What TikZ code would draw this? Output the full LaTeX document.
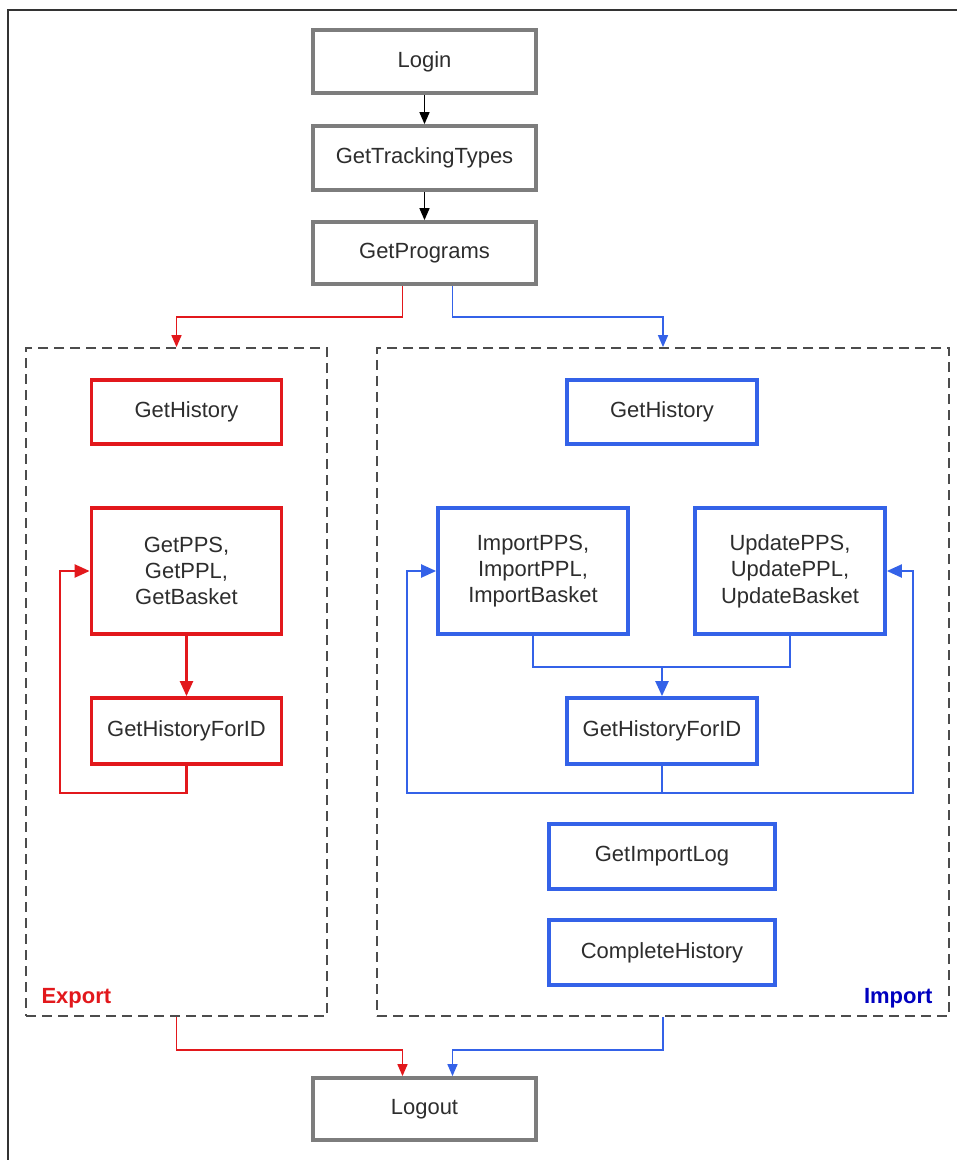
\documentclass[tikz,border=0pt]{standalone}
\usepackage{fontspec}
\setmainfont{Liberation Sans}
\usetikzlibrary{arrows.meta}

\definecolor{boxgray}{RGB}{125,125,125}
\definecolor{expred}{RGB}{226,24,28}
\definecolor{impblue}{RGB}{52,98,232}
\definecolor{txtgray}{RGB}{45,45,45}

\tikzset{
  box/.style={draw, line width=0.75mm, align=center, text=txtgray,
    font=\fontsize{12.5}{15}\selectfont, minimum width=3.8cm, minimum height=1.28cm},
  graybox/.style={box, draw=boxgray, minimum width=4.46cm},
  redbox/.style={box, draw=expred},
  bluebox/.style={box, draw=impblue},
  group/.style={draw=black!70, dash pattern=on 2mm off 1.2mm, line width=0.35mm},
  link/.style={line width=0.3mm, -{Triangle[length=2.4mm, width=2mm]}},
  inlink/.style={line width=0.45mm, -{Triangle[length=3mm, width=2.6mm]}}
}

\begin{document}
\begin{tikzpicture}[thick]
    \useasboundingbox (0,0) rectangle (19.14,-23.2);
    \draw[line width=0.5mm, black!80] (0.16,-23.2) -- (0.16,-0.2) -- (19.14,-0.2);

    \node[graybox, minimum height=1.26cm] at (8.49,-1.23) (login) {Login};
    \node[graybox] at (8.49,-3.16) (types) {GetTrackingTypes};
    \node[graybox, minimum height=1.24cm] at (8.49,-5.06) (programs) {GetPrograms};

    \node[group, minimum width=6.02cm, minimum height=13.36cm] at (3.53,-13.64) (export) {};
    \node[group, minimum width=11.44cm, minimum height=13.36cm] at (13.26,-13.64) (import) {};
    \node[anchor=west, text=expred, font=\fontsize{12.5}{15}\selectfont\bfseries] at (0.7,-19.96) (exportlabel) {Export};
    \node[anchor=east, text=blue!75!black, font=\fontsize{12.5}{15}\selectfont\bfseries] at (18.78,-19.96) (importlabel) {Import};

% export side
    \node[redbox] at (3.73,-8.24) (rhist) {GetHistory};
    \node[redbox, minimum height=2.52cm] at (3.73,-11.42) (rget) {GetPPS,\\GetPPL,\\GetBasket};
    \node[redbox, minimum height=1.32cm] at (3.73,-14.62) (rforid) {GetHistoryForID};

% import side
    \node[bluebox] at (13.24,-8.24) (bhist) {GetHistory};
    \node[bluebox, minimum height=2.52cm] at (10.66,-11.42) (bimp) {ImportPPS,\\ImportPPL,\\ImportBasket};
    \node[bluebox, minimum height=2.52cm] at (15.8,-11.42) (bupd) {UpdatePPS,\\UpdatePPL,\\UpdateBasket};
    \node[bluebox, minimum height=1.32cm] at (13.24,-14.62) (bforid) {GetHistoryForID};
    \node[bluebox, minimum width=4.52cm, minimum height=1.3cm] at (13.24,-17.13) (blog) {GetImportLog};
    \node[bluebox, minimum width=4.52cm, minimum height=1.3cm] at (13.24,-19.05) (bdone) {CompleteHistory};

    \node[graybox, minimum height=1.24cm] at (8.49,-22.18) (logout) {Logout};

    \coordinate (rloop) at (1.2,-15.86);
    \coordinate (bloopl) at (8.14,-15.86);
    \coordinate (bloopr) at (18.26,-15.86);
    \coordinate (bjoin) at (13.24,-13.34);

    \draw[link] (login) -- (types);
    \draw[link] (types) -- (programs);
    \draw[link, expred] ([xshift=-4.4mm]programs.south) -- ++(0,-0.62) -| (export.north);
    \draw[link, impblue] ([xshift=5.6mm]programs.south) -- ++(0,-0.62) -| (import.north);

    \draw[inlink, expred] (rget) -- (rforid);
    \draw[inlink, expred] (rforid.south) |- (rloop) |- (rget.west);

    \draw[line width=0.45mm, impblue] (bimp.south) |- (bjoin) -| (bupd.south);
    \draw[inlink, impblue] (bjoin) -- (bforid.north);
    \draw[inlink, impblue] (bforid.south) |- (bloopl) |- (bimp.west);
    \draw[inlink, impblue] (bforid.south) |- (bloopr) |- (bupd.east);

    \draw[link, expred] (export.south) -- ++(0,-0.66) -| ([xshift=-4.4mm]logout.north);
    \draw[link, impblue] (import.south) -- ++(0,-0.66) -| ([xshift=5.6mm]logout.north);

\end{tikzpicture}
\end{document}
